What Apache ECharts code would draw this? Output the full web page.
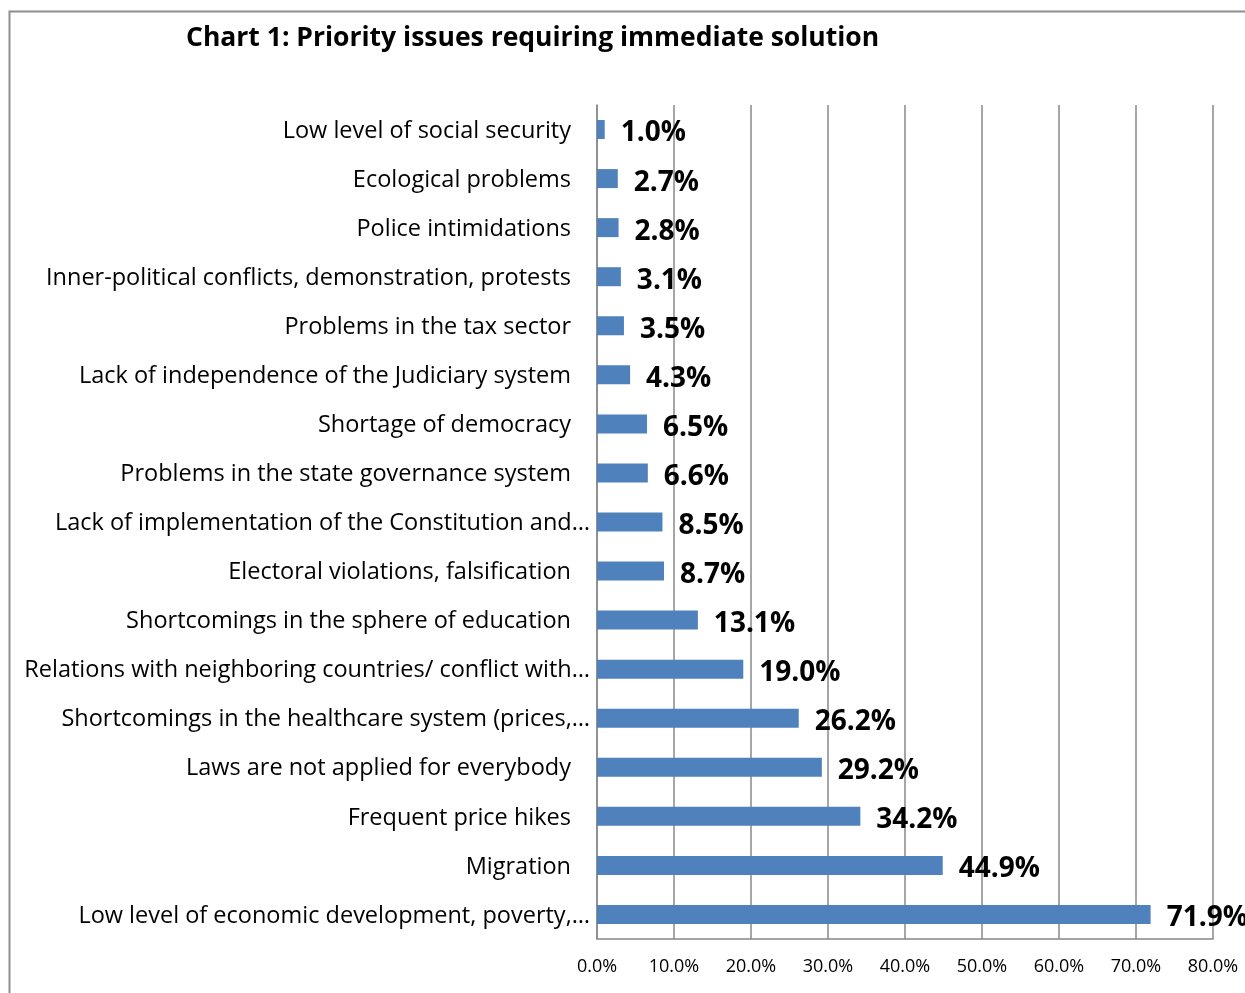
<!DOCTYPE html>
<html>
<head>
<meta charset="utf-8">
<script src="https://cdn.jsdelivr.net/npm/echarts@6/dist/echarts.min.js"></script>
<style>
  html, body { margin: 0; padding: 0; background: #ffffff; }
  #chart { width: 1245px; height: 993px; }
</style>
</head>
<body>
<div id="chart"></div>
<script>
// Issues, top to bottom
const categories = [
  'Low level of social security',
  'Ecological problems',
  'Police intimidations',
  'Inner-political conflicts, demonstration, protests',
  'Problems in the tax sector',
  'Lack of independence of the Judiciary system',
  'Shortage of democracy',
  'Problems in the state governance system',
  'Lack of implementation of the Constitution and…',
  'Electoral violations, falsification',
  'Shortcomings in the sphere of education',
  'Relations with neighboring countries/ conflict with…',
  'Shortcomings in the healthcare system (prices,…',
  'Laws are not applied for everybody',
  'Frequent price hikes',
  'Migration',
  'Low level of economic development, poverty,…'
];

// Share of respondents, percent
const shares = [1.0, 2.7, 2.8, 3.1, 3.5, 4.3, 6.5, 6.6, 8.5, 8.7, 13.1, 19.0, 26.2, 29.2, 34.2, 44.9, 71.9];

const axisTicks = { min: 0, max: 80, interval: 10 };

const FONT = '"Open Sans", "Noto Sans", sans-serif';

const chart = echarts.init(document.getElementById('chart'), null, { renderer: 'canvas' });

chart.setOption({
  backgroundColor: '#ffffff',
  animation: false,
  title: {
    text: 'Chart 1: Priority issues requiring immediate solution',
    left: 181,
    top: 20,
    textStyle: { fontFamily: FONT, fontWeight: 'bold', fontSize: 26.5, color: '#000000' }
  },
  graphic: [{
    type: 'rect',
    silent: true,
    shape: { x: 9.5, y: 11.5, width: 1300, height: 1100 },
    style: { fill: 'none', stroke: '#8e8e8e', lineWidth: 2 }
  }],
  grid: { left: 597, right: 32, top: 105, bottom: 54, containLabel: false },
  xAxis: {
    type: 'value',
    min: axisTicks.min,
    max: axisTicks.max,
    interval: axisTicks.interval,
    axisLine: { show: true, lineStyle: { color: '#888888', width: 1.5 } },
    axisTick: { show: false },
    splitLine: { show: true, lineStyle: { color: '#888888', width: 1.5 } },
    axisLabel: {
      margin: 19,
      fontFamily: FONT,
      fontSize: 18,
      color: '#000000',
      formatter: v => v.toFixed(1) + '%'
    }
  },
  yAxis: {
    type: 'category',
    data: categories,
    inverse: true,
    axisLine: { show: true, lineStyle: { color: '#888888', width: 1.5 } },
    axisTick: { show: false },
    axisLabel: {
      margin: 7,
      fontFamily: FONT,
      fontSize: 23.5,
      color: '#000000',
      formatter: t => t.endsWith('…') ? '{t|' + t + '}' : '{n|' + t + '}',
      rich: {
        n: { fontFamily: FONT, fontSize: 23.5, color: '#000000', padding: [3, 19, 0, 0] },
        t: { fontFamily: FONT, fontSize: 23.5, color: '#000000', padding: [3, 0, 0, 0] }
      }
    }
  },
  series: [{
    type: 'bar',
    data: shares,
    barWidth: 19,
    itemStyle: { color: '#4f81bd' },
    label: {
      show: true,
      position: 'right',
      distance: 16,
      offset: [0, 4],
      fontFamily: FONT,
      fontWeight: 'bold',
      fontSize: 28,
      color: '#000000',
      formatter: p => p.value.toFixed(1) + '%'
    }
  }]
});
</script>
</body>
</html>
